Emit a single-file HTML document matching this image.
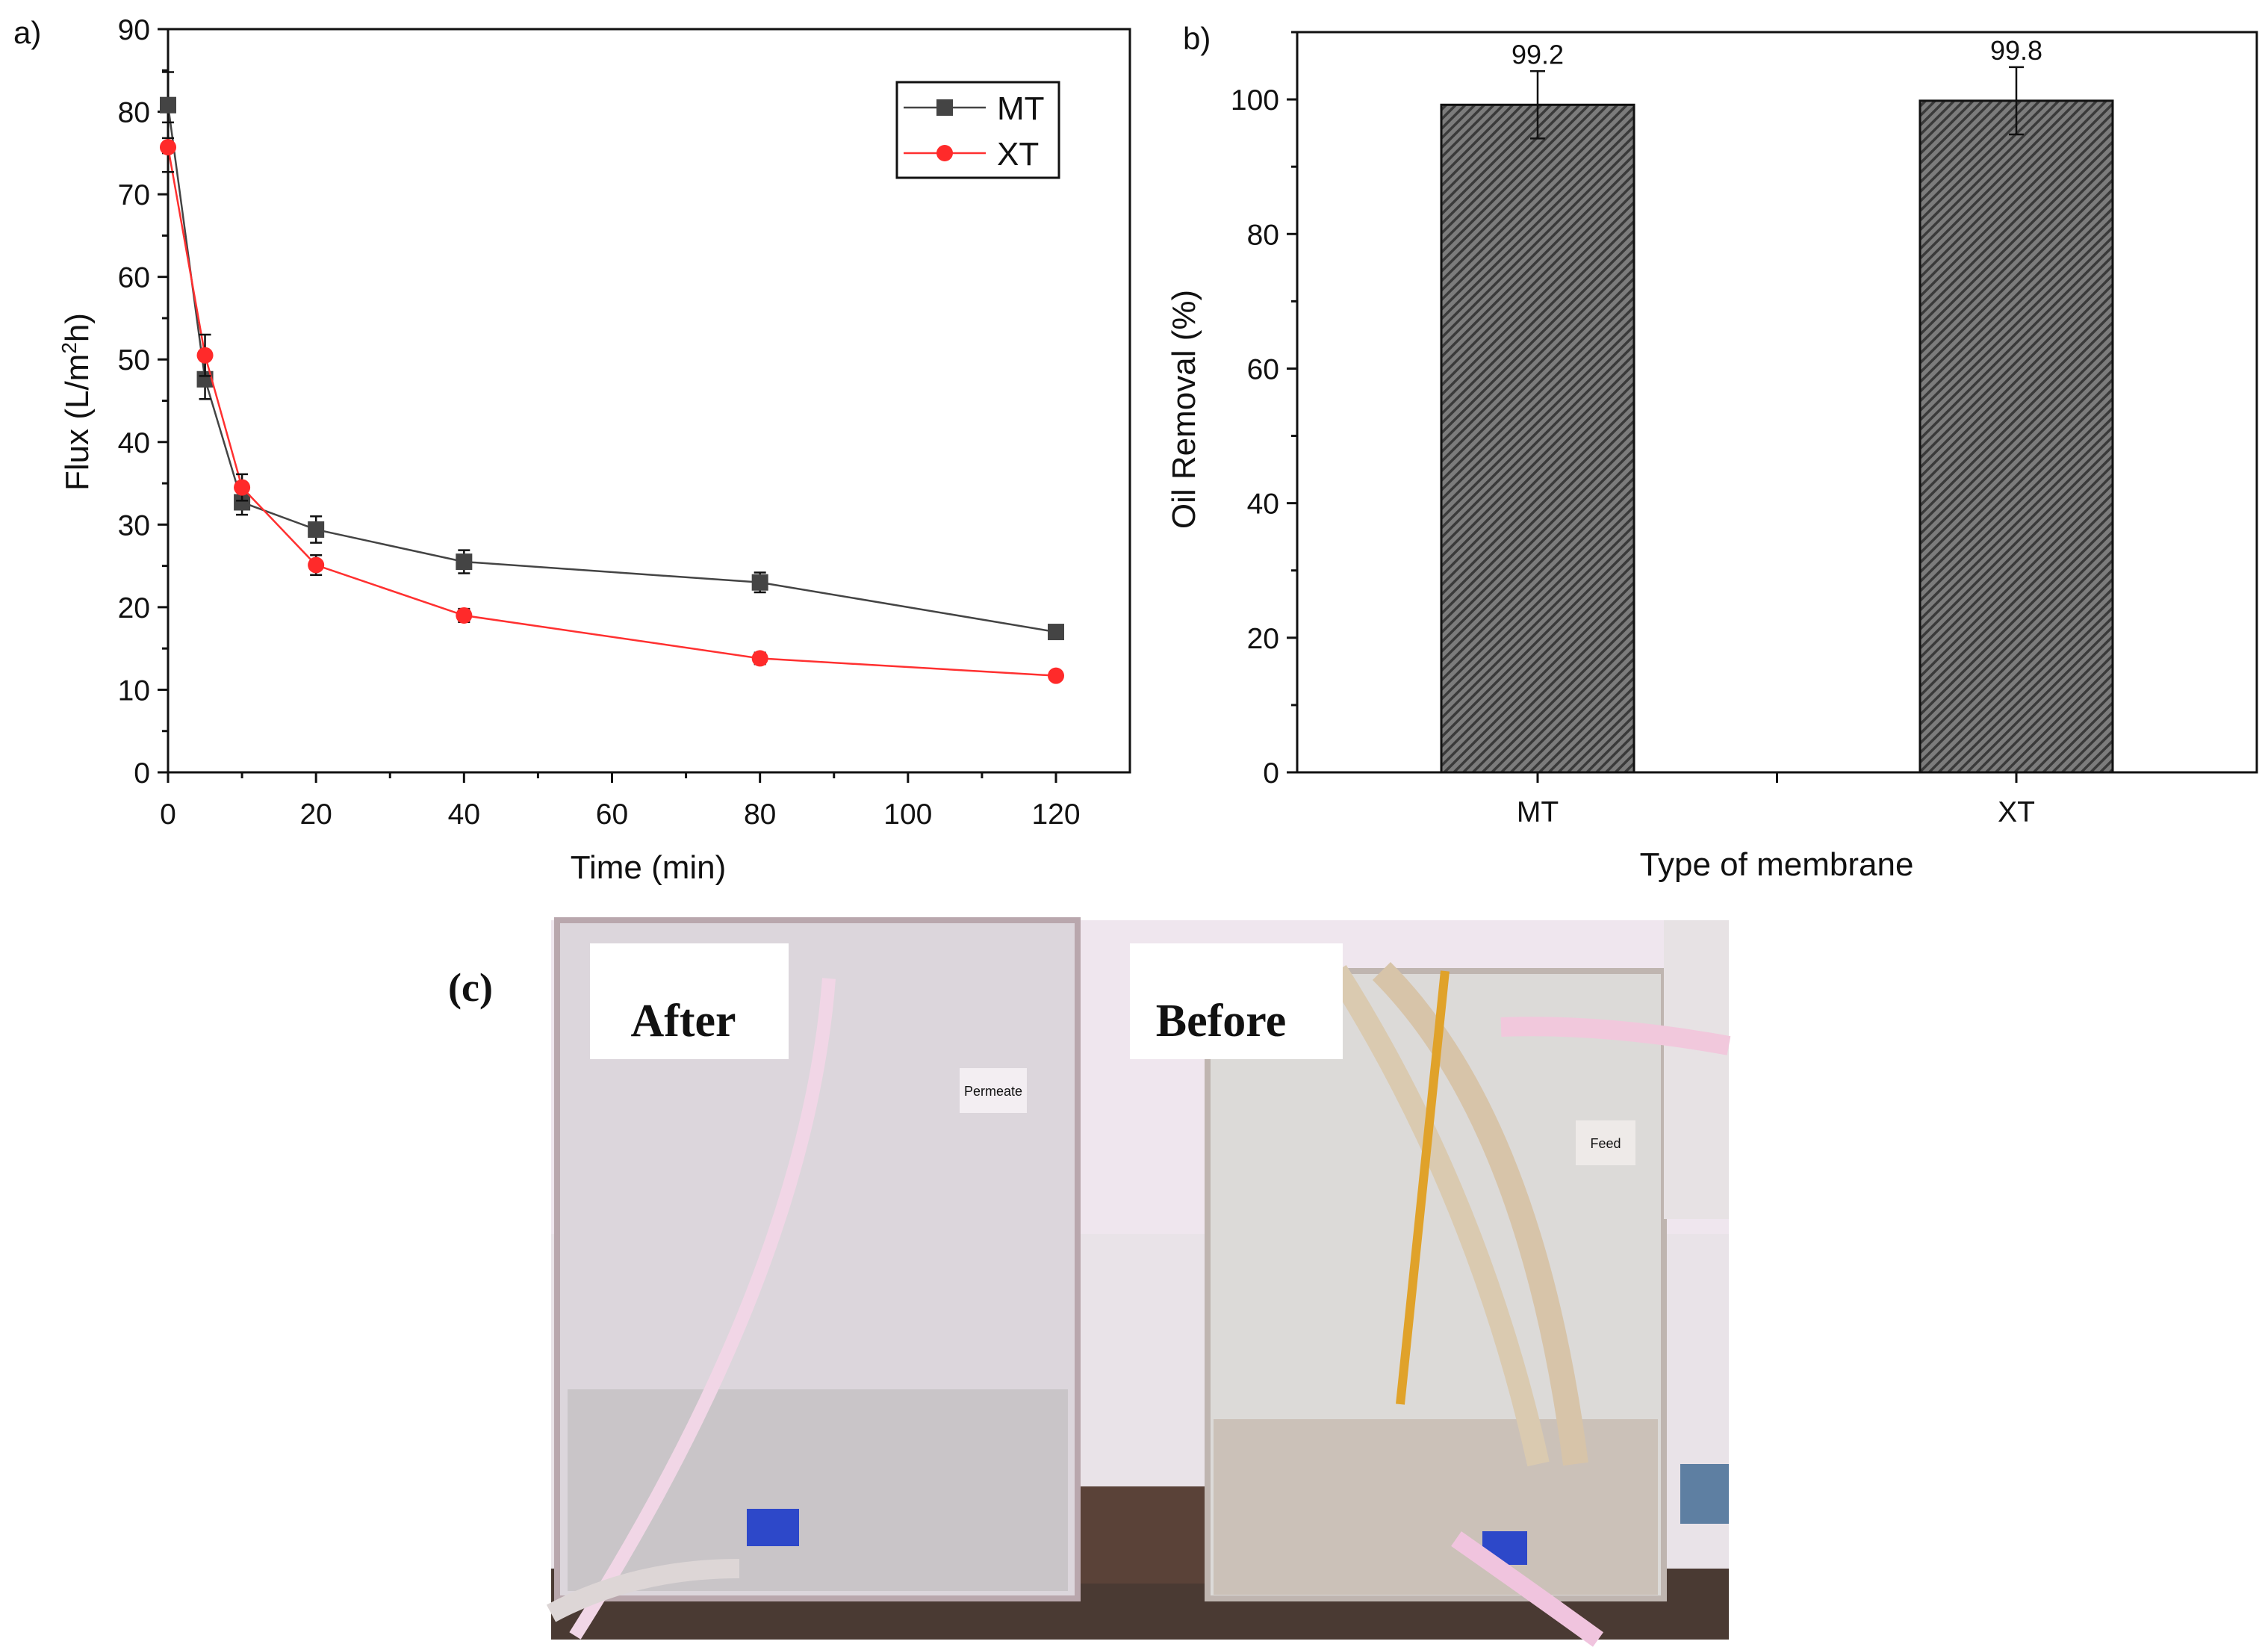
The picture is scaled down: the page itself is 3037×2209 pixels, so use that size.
<!DOCTYPE html>
<html><head><meta charset="utf-8"><style>
html,body{margin:0;padding:0;background:#fff;width:3037px;height:2209px;overflow:hidden}
svg{display:block}
text{font-family:"Liberation Sans",sans-serif;fill:#111}
</style></head><body>
<svg id="fig" width="3037" height="2209" viewBox="0 0 3037 2209" xmlns="http://www.w3.org/2000/svg">
<defs>
<pattern id="hatch" patternUnits="userSpaceOnUse" width="9" height="9" patternTransform="rotate(45)">
<rect width="9" height="9" fill="#7c7c7c"/><rect width="3.5" height="9" fill="#3a3a3a"/>
</pattern>
</defs>
<g id="pa"></g>
<g id="pb"></g>
<g id="pc">
<rect x="738" y="1232" width="1577" height="963" fill="#e9e3e8"/>
<rect x="738" y="1232" width="1577" height="420" fill="#efe6ee"/>
<rect x="738" y="2100" width="1577" height="95" fill="#4a3a33"/>
<rect x="1443" y="1990" width="180" height="130" fill="#5a4238"/>
<rect x="746" y="1232" width="697" height="908" fill="#dcd6dc" stroke="#b9a7ad" stroke-width="8"/>
<rect x="760" y="1860" width="670" height="270" fill="#c9c5c8"/>
<rect x="1617" y="1300" width="611" height="840" fill="#dcdad8" stroke="#bfb5b0" stroke-width="8"/>
<rect x="1625" y="1900" width="595" height="235" fill="#cbc1b8"/>
<rect x="2228" y="1232" width="87" height="400" fill="#e7e2e4"/>
<rect x="2250" y="1960" width="65" height="80" fill="#5e7fa2"/>
<path d="M1850 1300 Q2050 1500 2110 1960" stroke="#d7c4a9" stroke-width="34" fill="none"/>
<path d="M1790 1300 Q1980 1600 2060 1960" stroke="#dacab0" stroke-width="30" fill="none"/>
<line x1="1935" y1="1300" x2="1875" y2="1880" stroke="#e0a22a" stroke-width="12"/>
<path d="M1110 1310 Q1080 1700 770 2190" stroke="#f1d6e6" stroke-width="18" fill="none"/>
<path d="M2010 1375 Q2150 1370 2315 1400" stroke="#f1c8dc" stroke-width="26" fill="none"/>
<path d="M738 2160 Q850 2100 990 2100" stroke="#ddd6d6" stroke-width="26" fill="none"/>
<rect x="1000" y="2020" width="70" height="50" fill="#2d48c9"/>
<rect x="1985" y="2050" width="60" height="45" fill="#2d48c9"/>
<path d="M1950 2060 Q2050 2130 2140 2195" stroke="#f0c4de" stroke-width="24" fill="none"/>
<rect x="1285" y="1430" width="90" height="60" fill="#f3eef2"/>
<text x="1330" y="1467" font-size="18" text-anchor="middle">Permeate</text>
<rect x="2110" y="1500" width="80" height="60" fill="#eeeae8"/>
<text x="2150" y="1537" font-size="18" text-anchor="middle">Feed</text>
<rect x="790" y="1263" width="266" height="155" fill="#fff"/>
<text x="915" y="1387" font-size="62" font-weight="bold" text-anchor="middle" style="font-family:'Liberation Serif',serif">After</text>
<rect x="1513" y="1263" width="285" height="155" fill="#fff"/>
<text x="1635" y="1387" font-size="62" font-weight="bold" text-anchor="middle" style="font-family:'Liberation Serif',serif">Before</text>
<text x="600" y="1340" font-size="54" font-weight="bold" style="font-family:'Liberation Serif',serif">(c)</text>
</g>
</svg>
<script>
const times=[0,5,10,20,40,80,120];
const mtFlux=[80.8,47.6,32.7,29.4,25.5,23.0,17.0];
const mtErr=[4.0,2.4,1.5,1.6,1.4,1.2,0.5];
const xtFlux=[75.7,50.5,34.5,25.1,19.0,13.8,11.7];
const xtErr=[3.0,2.5,1.6,1.2,0.8,0.7,0.5];
const fluxTicks=[0,10,20,30,40,50,60,70,80,90];
const timeTicks=[0,20,40,60,80,100,120];
const membranes=["MT","XT"];
const removal=[99.2,99.8];
const removalErr=[5.0,5.0];
const removalTicks=[0,20,40,60,80,100];

const NS="http://www.w3.org/2000/svg";
function mk(parent,tag,attrs,txt){const e=document.createElementNS(NS,tag);for(const k in attrs)e.setAttribute(k,attrs[k]);if(txt!==undefined)e.textContent=txt;parent.appendChild(e);return e;}

// Panel A
const A=document.getElementById('pa');
const aL=225,aR=1513,aT=39,aB=1034;
const ax=t=>aL+(t-0)/(120)*(1414-aL);
const ay=v=>aB-v/90*(aB-aT);
let fr=mk(A,'rect',{x:aL,y:aT,width:aR-aL,height:aB-aT,fill:'none',stroke:'#111','stroke-width':3});


for(let v=0;v<=90;v+=5){const len=v%10===0?14:8;
 let t=mk(A,'line',{x1:aL-len,x2:aL,y1:ay(v),y2:ay(v),stroke:'#111','stroke-width':3});
 
 }
fluxTicks.forEach(v=>{let t=mk(A,'text',{x:aL-24,y:ay(v)+14,'font-size':39,'text-anchor':'end'},v);
 
 });
for(let v=0;v<=130;v+=10){if(ax(v)>aR)break;const len=v%20===0?14:8;
 let t=mk(A,'line',{x1:ax(v),x2:ax(v),y1:aB,y2:aB+len,stroke:'#111','stroke-width':3});
 
 }
timeTicks.forEach(v=>{let t=mk(A,'text',{x:ax(v),y:1103,'font-size':39,'text-anchor':'middle'},v);
 
 });
let xt=mk(A,'text',{x:868,y:1176,'font-size':44,'text-anchor':'middle'},'Time (min)');


let yt=mk(A,'text',{x:0,y:0,'font-size':44,'text-anchor':'middle',transform:'translate(118,538) rotate(-90)'});
yt.innerHTML='Flux (L/m<tspan dy="-16" font-size="28">2</tspan><tspan dy="16">h)</tspan>';


let la=mk(A,'text',{x:18,y:58,'font-size':42},'a)');


function series(vals,errs,color,shape,name){
 const g=mk(A,'g',{});
 
 
 let pl=mk(g,'polyline',{points:times.map((t,i)=>ax(t)+','+ay(vals[i])).join(' '),fill:'none',stroke:color,'stroke-width':2.5});
 
 
 times.forEach((t,i)=>{const x=ax(t),y=ay(vals[i]),y1=ay(vals[i]+errs[i]),y2=ay(vals[i]-errs[i]);
  let e=mk(g,'path',{d:`M${x-8} ${y1}H${x+8}M${x} ${y1}V${y2}M${x-8} ${y2}H${x+8}`,stroke:'#111','stroke-width':2.5,fill:'none'});
  
  
  let m=shape==='sq'?mk(g,'rect',{x:x-11,y:y-11,width:22,height:22,fill:'#444'}):mk(g,'circle',{cx:x,cy:y,r:11,fill:'#ff2a2a'});
  
  });
}
series(mtFlux,mtErr,'#444','sq','mt');
series(xtFlux,xtErr,'#ff3030','ci','xt');
const lg=mk(A,'g',{});


mk(lg,'rect',{x:1201,y:110,width:217,height:128,fill:'#fff',stroke:'#111','stroke-width':3});
mk(lg,'line',{x1:1210,x2:1320,y1:144,y2:144,stroke:'#444','stroke-width':2.5});
mk(lg,'rect',{x:1254,y:133,width:22,height:22,fill:'#444'});
let l1=mk(lg,'text',{x:1335,y:160,'font-size':44},'MT');


mk(lg,'line',{x1:1210,x2:1320,y1:205,y2:205,stroke:'#ff3030','stroke-width':2.5});
mk(lg,'circle',{cx:1265,cy:205,r:11,fill:'#ff2a2a'});
let l2=mk(lg,'text',{x:1335,y:221,'font-size':44},'XT');



// Panel B
const B=document.getElementById('pb');
const bL=1737,bR=3022,bT=43,bB=1034;
const by=v=>bB-v/110*(bB-bT);
const bx=i=>[2059,2700][i];
const bw=258;
let fb=mk(B,'rect',{x:bL,y:bT,width:bR-bL,height:bB-bT,fill:'none',stroke:'#111','stroke-width':3});


for(let v=0;v<=110;v+=10){const len=v%20===0?14:8;
 let t=mk(B,'line',{x1:bL-len,x2:bL,y1:by(v),y2:by(v),stroke:'#111','stroke-width':3});
 
 }
removalTicks.forEach(v=>{let t=mk(B,'text',{x:bL-24,y:by(v)+14,'font-size':39,'text-anchor':'end'},v);
 
 });
[bx(0),(bx(0)+bx(1))/2,bx(1)].forEach(x=>{let t=mk(B,'line',{x1:x,x2:x,y1:bB,y2:bB+14,stroke:'#111','stroke-width':3});
 
 });
membranes.forEach((m,i)=>{
 let r=mk(B,'rect',{x:bx(i)-bw/2,y:by(removal[i]),width:bw,height:bB-by(removal[i]),fill:'url(#hatch)',stroke:'#111','stroke-width':3});
 
 
 const x=bx(i),y1=by(removal[i]+removalErr[i]),y2=by(removal[i]-removalErr[i]);
 let e=mk(B,'path',{d:`M${x-10} ${y1}H${x+10}M${x} ${y1}V${y2}M${x-10} ${y2}H${x+10}`,stroke:'#111','stroke-width':2.5,fill:'none'});
 
 
 let v=mk(B,'text',{x:x,y:y1-10,'font-size':36,'text-anchor':'middle'},removal[i].toFixed(1));
 
 
 let c=mk(B,'text',{x:x,y:1100,'font-size':39,'text-anchor':'middle'},m);
 
 
});
let bxt=mk(B,'text',{x:2379,y:1172,'font-size':44,'text-anchor':'middle'},'Type of membrane');


let byt=mk(B,'text',{x:0,y:0,'font-size':44,'text-anchor':'middle',transform:'translate(1600,548) rotate(-90)'},'Oil Removal (%)');


let lb=mk(B,'text',{x:1584,y:66,'font-size':42},'b)');


</script>
</body></html>
